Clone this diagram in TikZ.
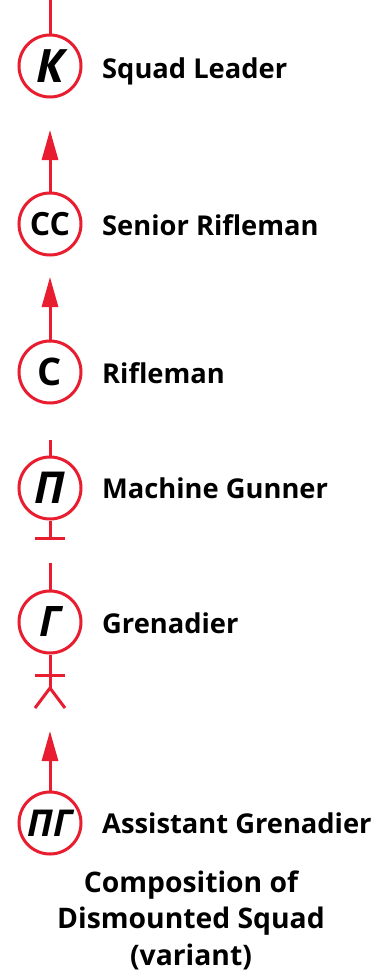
\documentclass[tikz,border=0pt]{standalone}
\usepackage{fontspec}
\setmainfont{Open Sans}
\usetikzlibrary{arrows.meta}
\definecolor{sqred}{RGB}{232,30,48}
\begin{document}
\begin{tikzpicture}[x=1pt,y=-1pt,
  role/.style={circle,draw=sqred,line width=3pt,minimum size=62pt,inner sep=0pt,fill=white},
  rolelabel/.style={anchor=base west,inner sep=0pt,font=\fontsize{27.3}{27.3}\selectfont\bfseries},
  link/.style={draw=sqred,line width=3pt},
  up/.style={link,-{Triangle[length=30pt,width=16pt]}},
  title/.style={anchor=base,inner sep=0pt,font=\fontsize{28.3}{28.3}\selectfont\bfseries}]
\useasboundingbox (0,0) rectangle (387,972);
\fill[white] (0,0) rectangle (387,972);
% nodes
\node[role,font=\fontsize{46}{46}\selectfont\bfseries\itshape] (k) at (50,66) {К};
\node[role,font=\fontsize{32}{32}\selectfont\bfseries] (ss) at (50,224) {СС};
\node[role,font=\fontsize{38}{38}\selectfont\bfseries] (s) at (50,372) {С};
\node[role,font=\fontsize{44}{44}\selectfont\bfseries\itshape] (p) at (50,488) {П};
\node[role,font=\fontsize{42}{42}\selectfont\bfseries\itshape] (g) at (50,622) {Г};
\node[role,font=\fontsize{37}{37}\selectfont\bfseries\itshape] (pg) at (50,823) {ПГ};
% labels
\node[rolelabel] (lk) at (102,78) {Squad Leader};
\node[rolelabel] (lss) at (102,235) {Senior Rifleman};
\node[rolelabel] (ls) at (102,383) {Rifleman};
\node[rolelabel] (lp) at (102,498) {Machine Gunner};
\node[rolelabel] (lg) at (102,633) {Grenadier};
\node[rolelabel] (lpg) at (102,833) {Assistant Grenadier};
% connectors
\coordinate (ktop) at (50,0);
\draw[link] (ktop) -- (k.north);
\coordinate (a1) at (50,130);
\draw[up] (ss.north) -- (a1);
\coordinate (a2) at (50,277);
\draw[up] (s.north) -- (a2);
\coordinate (ptop) at (50,440);
\draw[link] (ptop) -- (p.north);
\coordinate (pbar) at (50,538);
\draw[link] (p.south) -- (pbar);
\draw[link] (35,538) -- (65,538);
\coordinate (gtop) at (50,563);
\draw[link] (gtop) -- (g.north);
\coordinate (gfork) at (50,688);
\draw[link] (g.south) -- (gfork);
\draw[link] (35,675) -- (65,675);
\draw[link,line join=miter] (35,708) -- (gfork) -- (65,708);
\coordinate (a3) at (50,731);
\draw[up] (pg.north) -- (a3);
% title
\node[title] (t1) at (191,892) {Composition of};
\node[title] (t2) at (191,928) {Dismounted Squad};
\node[title] (t3) at (191,965) {(variant)};
\end{tikzpicture}
\end{document}
